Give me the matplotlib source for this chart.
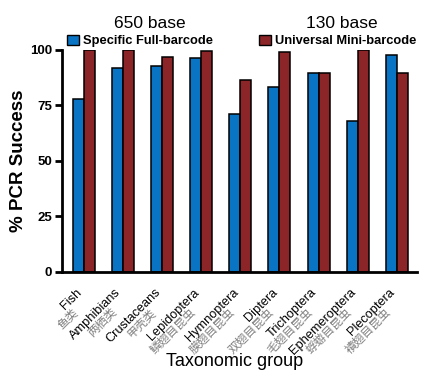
import matplotlib
matplotlib.use('Agg')
import matplotlib.pyplot as plt
import numpy as np
from matplotlib.patches import Patch

plt.rcParams['font.family'] = ['Liberation Sans', 'Noto Sans CJK SC', 'DejaVu Sans']

groups = ['Fish', 'Amphibians', 'Crustaceans', 'Lepidoptera', 'Hymnoptera',
          'Diptera', 'Trichoptera', 'Ephemeroptera', 'Plecoptera']
groups_cn = ['鱼类', '两栖类', '甲壳类', '鳞翅目昆虫', '膜翅目昆虫',
             '双翅目昆虫', '毛翅目昆虫', '蜉蝣目昆虫', '襀翅目昆虫']
full_barcode = [78, 91.7, 92.6, 96.4, 71.3, 83.3, 89.5, 68.1, 97.9]
mini_barcode = [100, 100, 96.8, 99.7, 86.3, 99.1, 89.5, 100, 89.5]
yticks = [0, 25, 50, 75, 100]

blue = '#0a74c4'
red = '#8b2527'

fig = plt.figure(figsize=(4.24, 3.73), dpi=100)
ax = fig.add_axes([0.146, 0.271, 0.837, 0.595])

x = np.arange(len(groups))
w = 0.28
ax.bar(x - w / 2, full_barcode, w, color=blue, edgecolor='black', linewidth=1.1)
ax.bar(x + w / 2, mini_barcode, w, color=red, edgecolor='black', linewidth=1.1)

ax.set_xlim(-0.56, 8.51)
ax.set_ylim(0, 100)
ax.set_yticks(yticks)
ax.set_yticklabels([str(v) for v in yticks], fontsize=9.5, fontweight='bold')
ax.tick_params(axis='y', direction='out', length=5, width=2, pad=2)
ax.set_xticks([])

for s in ['top', 'right']:
    ax.spines[s].set_visible(False)
for s in ['left', 'bottom']:
    ax.spines[s].set_linewidth(2)

# english name with the chinese name one line below, shifted back along the text
for i, (en, cn) in enumerate(zip(groups, groups_cn)):
    ax.annotate(en, xy=(i, 0), xycoords=('data', 'axes fraction'),
                xytext=(-5.7, -10.5), textcoords='offset points',
                rotation=45, ha='right', va='top', rotation_mode='anchor',
                fontsize=9.2, annotation_clip=False)
    ax.annotate(cn, xy=(i, 0), xycoords=('data', 'axes fraction'),
                xytext=(-8.9, -24.3), textcoords='offset points',
                rotation=45, ha='right', va='top', rotation_mode='anchor',
                fontsize=8.5, color='#808080',
                family=['Noto Sans CJK SC', 'DejaVu Sans'],
                annotation_clip=False)

ax.set_ylabel('% PCR Success', fontsize=13.5, fontweight='bold', labelpad=2)
fig.text(0.553, 1 - 366 / 373, 'Taxonomic group', ha='center', va='baseline', fontsize=13)

fig.text(150 / 424, 1 - 28 / 373, '650 base', ha='center', va='baseline', fontsize=12.5)
fig.text(342 / 424, 1 - 28 / 373, '130 base', ha='center', va='baseline', fontsize=12.5)

leg_props = dict(loc='center left', frameon=False,
                 prop={'size': 9.3, 'weight': 'bold'}, handlelength=0.9,
                 handleheight=0.9, handletextpad=0.3, borderaxespad=0)
fig.legend(handles=[Patch(facecolor=blue, edgecolor='black')],
           labels=['Specific Full-barcode'],
           bbox_to_anchor=(62 / 424, 1 - 41 / 373), **leg_props)
fig.legend(handles=[Patch(facecolor=red, edgecolor='black')],
           labels=['Universal Mini-barcode'],
           bbox_to_anchor=(254 / 424, 1 - 41 / 373), **leg_props)

plt.savefig('out.png', dpi=100)
